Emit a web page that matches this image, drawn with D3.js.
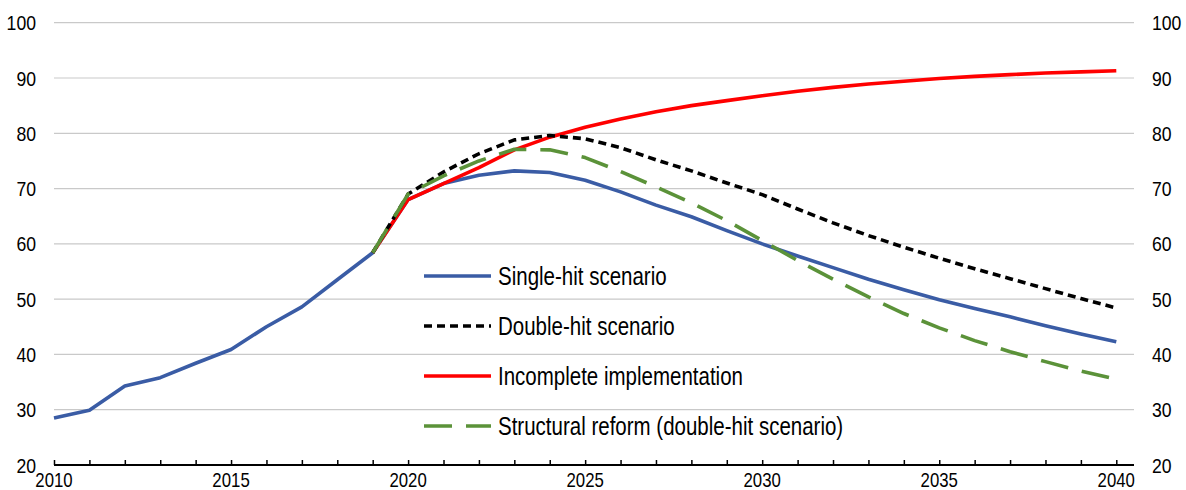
<!DOCTYPE html>
<html>
<head>
<meta charset="utf-8">
<script src="https://cdn.jsdelivr.net/npm/d3@7"></script>
<style>
  html, body { margin: 0; padding: 0; background: #fff; }
  svg { display: block; }
  text { font-family: "Liberation Sans", Arial, sans-serif; fill: #000; }
</style>
</head>
<body>
<svg id="chart" width="1186" height="490"></svg>
<script>
const years = d3.range(2010, 2041);
const singleHit = [28.5, 29.9, 34.3, 35.8, 38.4, 40.9, 45.0, 48.6, 53.5, 58.4,
  68.0, 70.9, 72.4, 73.2, 72.9, 71.5, 69.4, 67.0, 64.9, 62.4,
  60.0, 57.8, 55.7, 53.6, 51.7, 49.9, 48.3, 46.8, 45.2, 43.7, 42.3];
const doubleYears = d3.range(2019, 2041);
const doubleHit = [58.4, 69.0, 73.0, 76.3, 78.8, 79.6, 79.0, 77.4, 75.2, 73.2,
  71.0, 68.9, 66.3, 63.8, 61.5, 59.4, 57.4, 55.5, 53.7, 51.9, 50.1, 48.4];
const incomplete = [58.4, 68.0, 70.9, 73.8, 77.0, 79.3, 81.1, 82.6, 83.9, 85.0,
  85.9, 86.8, 87.6, 88.3, 88.9, 89.4, 89.9, 90.3, 90.6, 90.9, 91.1, 91.3];
const structural = [58.4, 69.0, 72.3, 75.0, 77.1, 77.0, 75.6, 73.1, 70.3, 67.4,
  64.2, 60.6, 57.0, 53.6, 50.4, 47.4, 44.8, 42.5, 40.5, 38.7, 37.0, 35.5];
const yTicks = [20, 30, 40, 50, 60, 70, 80, 90, 100];
const xLabels = [2010, 2015, 2020, 2025, 2030, 2035, 2040];
const seriesNames = ["Single-hit scenario", "Double-hit scenario", "Incomplete implementation", "Structural reform (double-hit scenario)"];

const svg = d3.select("#chart");
const x = d3.scaleLinear().domain([2010, 2040.5]).range([54, 1134]);
const y = d3.scaleLinear().domain([20, 100]).range([465, 22.7]);
const SX = 0.84;

// gridlines
svg.append("g").selectAll("line").data(yTicks.filter(d => d > 20)).join("line")
  .attr("x1", x(2010)).attr("x2", x(2040.5))
  .attr("y1", d => y(d)).attr("y2", d => y(d))
  .attr("stroke", "#c9c9c9").attr("stroke-width", 1.2);

// left axis labels
svg.append("g").selectAll("text").data(yTicks).join("text")
  .attr("transform", d => `translate(36,${y(d)}) scale(${SX},1)`)
  .attr("dy", "0.36em")
  .attr("text-anchor", "end").attr("font-size", 21).text(d => d);
// right axis labels
svg.append("g").selectAll("text").data(yTicks).join("text")
  .attr("transform", d => `translate(1152,${y(d)}) scale(${SX},1)`)
  .attr("dy", "0.36em")
  .attr("text-anchor", "start").attr("font-size", 21).text(d => d);

// x axis
const xAxis = d3.axisBottom(x).tickValues(years).tickSize(-5).tickFormat("");
const gx = svg.append("g").attr("transform", `translate(0,${y(20)})`).call(xAxis);
gx.select(".domain").attr("stroke", "#000").attr("stroke-width", 2).attr("d", `M${x(2010)},0H${x(2040.5)}`);
gx.selectAll(".tick line").attr("stroke", "#000").attr("stroke-width", 1.5);
svg.append("g").selectAll("text").data(xLabels).join("text")
  .attr("transform", d => `translate(${x(d)},487) scale(${SX},1)`)
  .attr("text-anchor", "middle")
  .attr("font-size", 20).text(d => d);

const line = d3.line().x(d => x(d[0])).y(d => y(d[1]));

const styles = [
  { color: "#3a5ca5", width: 3.6, dash: null },
  { color: "#000000", width: 3.6, dash: "8,5" },
  { color: "#ff0000", width: 3.6, dash: null },
  { color: "#5b9239", width: 3.6, dash: "28,14" }
];
const data = [
  years.map((yr, i) => [yr, singleHit[i]]),
  doubleYears.map((yr, i) => [yr, doubleHit[i]]),
  doubleYears.map((yr, i) => [yr, incomplete[i]]),
  doubleYears.map((yr, i) => [yr, structural[i]])
];
const order = [0, 2, 1, 3];
order.forEach(i => {
  svg.append("path").datum(data[i])
    .attr("d", line).attr("fill", "none")
    .attr("stroke", styles[i].color).attr("stroke-width", styles[i].width)
    .attr("stroke-dasharray", styles[i].dash)
    .attr("stroke-linejoin", "round").attr("stroke-linecap", "butt");
});

// legend
const leg = svg.append("g");
seriesNames.forEach((name, i) => {
  const ly = 276 + i * 50;
  leg.append("line").attr("x1", 424).attr("x2", 491).attr("y1", ly).attr("y2", ly)
    .attr("stroke", styles[i].color).attr("stroke-width", styles[i].width)
    .attr("stroke-dasharray", styles[i].dash);
  leg.append("text").attr("transform", `translate(498,${ly}) scale(0.82,1)`)
    .attr("dy", "0.36em")
    .attr("font-size", 25).text(name);
});
</script>
</body>
</html>
